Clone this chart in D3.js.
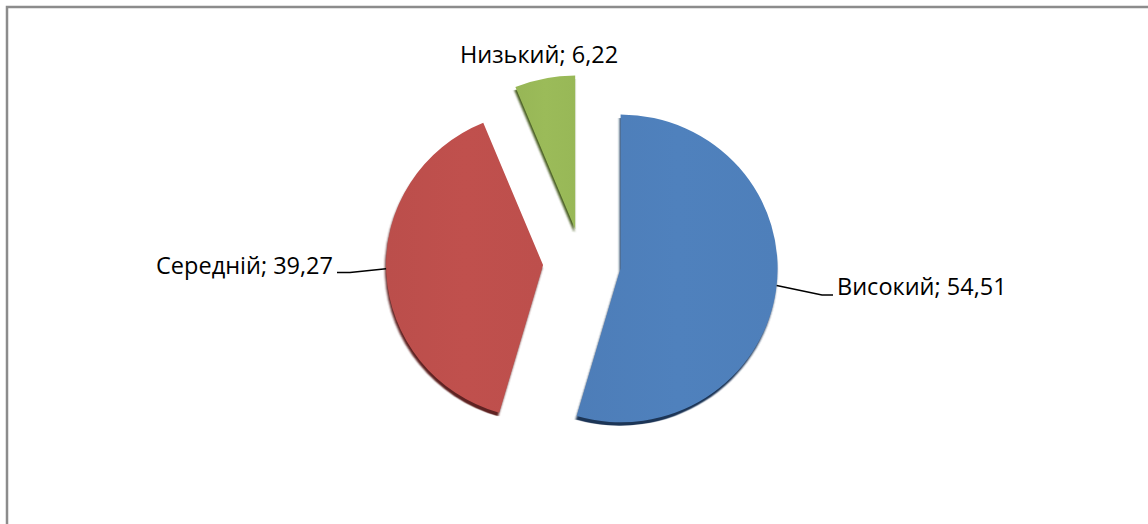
<!DOCTYPE html>
<html><head><meta charset="utf-8">
<script src="https://cdn.jsdelivr.net/npm/d3@7/dist/d3.min.js"></script>
<style>html,body{margin:0;padding:0;background:#fff;overflow:hidden}</style>
</head><body>
<svg id="c" width="1148" height="524"></svg>
<script>
const categories = ["Високий", "Середній", "Низький"];
const values = [54.51, 39.27, 6.22];
const valueLabels = ["54,51", "39,27", "6,22"];
const colors = ["#4F81BD", "#C0504D", "#9BBB59"];
const shadowColors = ["#1F3656", "#5E2220", "#4A5E22"];
const explode = [39, 39, 35];

const svg = d3.select("#c");
// frame
svg.append("path").attr("d", "M7,524 V7 H1148").attr("fill", "none")
  .attr("stroke", "#8c8c8c").attr("stroke-width", 2.5);

const cx = 582, cy = 263, R = 157, sy = 0.98;
const pie = d3.pie().sort(null).value(d => d)(values);
const arc = d3.arc().innerRadius(0).outerRadius(R);

const defs = svg.append("defs");
defs.append("filter").attr("id", "blur").append("feGaussianBlur").attr("stdDeviation", 0.8);
colors.forEach((c, i) => {
  const g = defs.append("linearGradient").attr("id", "g" + i).attr("x1", "0").attr("x2", "1").attr("y1", "0").attr("y2", "0");
  g.append("stop").attr("offset", "0").attr("stop-color", d3.color(c).darker(0.08));
  g.append("stop").attr("offset", "0.5").attr("stop-color", c);
  g.append("stop").attr("offset", "1").attr("stop-color", d3.color(c).darker(0.05));
});

const root = svg.append("g").attr("transform", `translate(${cx},${cy}) scale(1,${sy})`);
const off = pie.map((d, i) => {
  const m = (d.startAngle + d.endAngle) / 2;
  return [Math.sin(m) * explode[i], -Math.cos(m) * explode[i]];
});
pie.forEach((d, i) => {
  root.append("path").attr("d", arc(d))
    .attr("transform", `translate(${off[i][0] - 1},${off[i][1] + 3.5})`)
    .attr("fill", shadowColors[i]).attr("filter", "url(#blur)");
});
pie.forEach((d, i) => {
  root.append("path").attr("d", arc(d))
    .attr("transform", `translate(${off[i][0]},${off[i][1]})`)
    .attr("fill", `url(#g${i})`);
});

// labels
const font = "'Open Sans', sans-serif";
const fs = 23.5;
function label(txt, x, y, anchor) {
  svg.append("text").attr("x", x).attr("y", y).attr("text-anchor", anchor)
    .attr("font-family", font).attr("font-size", fs).attr("fill", "#000").text(txt);
}
function pt(i, ang, rr) {
  return [cx + off[i][0] + Math.sin(ang) * rr, cy + (off[i][1] - Math.cos(ang) * rr) * sy];
}
// Високий
const pB = pt(0, (pie[0].startAngle + pie[0].endAngle) / 2 - 0.03, R);
svg.append("path").attr("d", `M${pB[0]},${pB[1]} L822,295 H833`).attr("fill", "none").attr("stroke", "#000").attr("stroke-width", 1.6);
label(categories[0] + "; " + valueLabels[0], 837, 295, "start");
// Середній
const pS = pt(1, (pie[1].startAngle + pie[1].endAngle) / 2 + 0.03, R);
svg.append("path").attr("d", `M${pS[0]},${pS[1]} L350,272.5 H337`).attr("fill", "none").attr("stroke", "#000").attr("stroke-width", 1.6);
label(categories[1] + "; " + valueLabels[1], 333, 274, "end");
// Низький
label(categories[2] + "; " + valueLabels[2], 539, 63, "middle");
</script>
</body></html>
